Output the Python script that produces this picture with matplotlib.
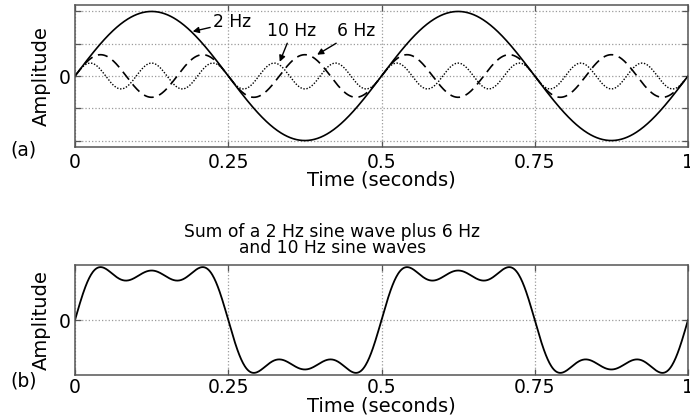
import matplotlib
matplotlib.use('Agg')
import matplotlib.pyplot as plt
import numpy as np

# sine components
freqs = [2, 6, 10]          # Hz
amps = [1.0, 0.33, 0.2]
styles = ['-', (0, (6, 3.5)), (0, (1, 1.2))]
widths = [1.2, 1.2, 1.0]

xticks = [0, 0.25, 0.5, 0.75, 1]
xticklabels = ['0', '0.25', '0.5', '0.75', '1']

t = np.linspace(0, 1, 1001)
waves = [a * np.sin(2 * np.pi * f * t) for f, a in zip(freqs, amps)]
total = np.sum(waves, axis=0)

plt.rcParams['font.family'] = 'DejaVu Sans'
grid_kw = dict(color='#9a9a9a', linestyle=':', linewidth=0.9)
frame_col = '#555555'

fig = plt.figure(figsize=(6.9, 4.17), dpi=100)

def style_axes(ax, xpad, xlabelpad):
    for s in ax.spines.values():
        s.set_color(frame_col)
        s.set_linewidth(1.1)
    ax.tick_params(direction='in', length=4, width=0.9, color=frame_col,
                   top=True, right=True, labelsize=13.5)
    ax.tick_params(axis='x', pad=xpad)
    ax.tick_params(axis='y', pad=3)
    ax.set_xlim(0, 1)
    ax.set_xticks(xticks)
    ax.set_xticklabels(xticklabels)
    ax.set_xlabel('Time (seconds)', fontsize=14, labelpad=xlabelpad)
    ax.set_ylabel('Amplitude', fontsize=14, labelpad=6)
    ax.xaxis.grid(True, **grid_kw)
    ax.yaxis.grid(True, **grid_kw)

# (a) the three sine waves
ax1 = fig.add_axes([75/690, 1-147/417, 613/690, 142/417])
for w, ls, lw in zip(waves, styles, widths):
    ax1.plot(t, w, color='black', linestyle=ls, linewidth=lw)
ax1.set_ylim(-1.1, 1.1)
ax1.set_yticks([-1, -0.5, 0, 0.5, 1])
ax1.set_yticklabels(['', '', '0', '', ''])
style_axes(ax1, 4, -1)

arrow = dict(arrowstyle='-|>', color='black', lw=1.0, mutation_scale=9,
             shrinkA=0, shrinkB=0)
ax1.annotate('2 Hz', xy=(0.192, 0.69), xytext=(0.225, 0.83),
             ha='left', va='center', fontsize=12.3, arrowprops=arrow)
ax1.annotate('10 Hz', xy=(0.334, 0.22), xytext=(0.354, 0.69),
             ha='center', va='center', fontsize=12.3, arrowprops=arrow)
ax1.annotate('6 Hz', xy=(0.395, 0.33), xytext=(0.458, 0.69),
             ha='center', va='center', fontsize=12.3, arrowprops=arrow)
fig.text(23/690, 1-150/417, '(a)', fontsize=13.5, ha='center', va='center')

# (b) the sum
ax2 = fig.add_axes([75/690, 1-375/417, 613/690, 110/417])
ax2.plot(t, total, color='black', linewidth=1.3)
lim = np.abs(total).max() * 1.04
ax2.set_ylim(-lim, lim)
ax2.set_yticks([0])
style_axes(ax2, 2, -0.5)
ax2.text(0.42, 1.07, 'Sum of a 2 Hz sine wave plus 6 Hz\nand 10 Hz sine waves',
         transform=ax2.transAxes, ha='center', va='bottom', fontsize=12.3,
         linespacing=0.9)
fig.text(24/690, 1-381/417, '(b)', fontsize=13.5, ha='center', va='center')

fig.savefig('out.png', dpi=100)
